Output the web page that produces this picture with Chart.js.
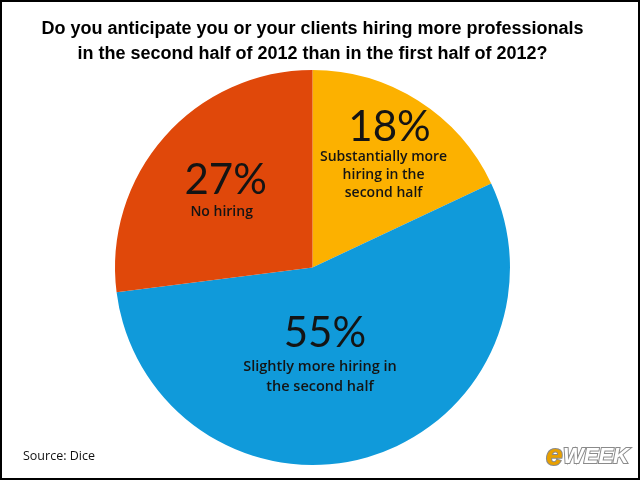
<!DOCTYPE html>
<html>
<head>
<meta charset="utf-8">
<script src="https://cdn.jsdelivr.net/npm/chart.js@4"></script>
<style>
  html, body { margin: 0; padding: 0; background: #fff; }
  canvas { display: block; }
</style>
</head>
<body>
<canvas id="pieChart" width="640" height="480"></canvas>
<script>
const categories = ["Substantially more hiring in the second half", "Slightly more hiring in the second half", "No hiring"];
const shares = [18, 55, 27];
const sliceColors = ["#FCB100", "#109ADA", "#E0480A"];
const labelLines = [
    ["Substantially more", "hiring in the", "second half"],
    ["Slightly more hiring in", "the second half"],
    ["No hiring"]
];
const titleLines = [
    "Do you anticipate you or your clients hiring more professionals",
    "in the second half of 2012 than in the first half of 2012?"
];

// label placement, relative to the pie centre in units of radius
const labelStyle = [
    { dx: 0.39, dy: -0.71, big: 42, small: 14, gap: 18, subDx: -0.03, subDy: 30 },
    { dx: 0.063, dy: 0.335, big: 42, small: 14.5, gap: 20, subDx: -0.025, subDy: 33 },
    { dx: -0.44, dy: -0.44, big: 42, small: 14, gap: 18, subDx: -0.02, subDy: 31 }
];

const sliceLabels = {
    id: "sliceLabels",
    afterDatasetsDraw(chart) {
        const c = chart.ctx;
        const arcs = chart.getDatasetMeta(0).data;
        c.save();
        c.textAlign = "center";
        c.textBaseline = "middle";
        c.fillStyle = "#141414";
        arcs.forEach((arc, i) => {
            const s = labelStyle[i];
            const r = arc.outerRadius;
            const x = arc.x + s.dx * r;
            const y = arc.y + s.dy * r;
            c.font = s.big + "px Lato";
            c.fillText(shares[i] + "%", x, y);
            c.font = "600 " + s.small + "px 'Open Sans'";
            labelLines[i].forEach((line, j) => {
                c.fillText(line, x + s.subDx * r, y + s.subDy + j * s.gap);
            });
        });
        c.restore();
    },
    afterDraw(chart) {
        const c = chart.ctx;
        c.save();
        c.font = "12.5px 'Open Sans'";
        c.fillStyle = "#111";
        c.textAlign = "left";
        c.textBaseline = "middle";
        c.fillText("Source: Dice", 23, 456);

        c.font = "italic bold 30px 'Liberation Sans'";
        c.lineWidth = 2;
        c.strokeStyle = "#8a8a8a";
        c.strokeText("e", 546, 457);
        c.fillStyle = "#E8A000";
        c.fillText("e", 546, 457);
        c.font = "italic bold 22px 'Liberation Sans'";
        c.strokeText("WEEK", 563, 457);
        c.fillStyle = "#ffffff";
        c.fillText("WEEK", 563, 457);

        c.lineWidth = 2;
        c.strokeStyle = "#000";
        c.strokeRect(1, 1, chart.width - 2, chart.height - 2);
        c.restore();
    }
};

new Chart(document.getElementById("pieChart"), {
    type: "pie",
    data: {
        labels: categories,
        datasets: [{
            data: shares,
            backgroundColor: sliceColors,
            borderWidth: 0
        }]
    },
    options: {
        responsive: false,
        animation: false,
        layout: { padding: { top: 0, bottom: 15, left: 0, right: 15 } },
        plugins: {
            legend: { display: false },
            tooltip: { enabled: false },
            title: {
                display: true,
                text: titleLines,
                color: "#000",
                font: { family: "'Liberation Sans'", size: 18, weight: "bold", lineHeight: 1.39 },
                padding: { top: 17, bottom: 3 }
            }
        }
    },
    plugins: [sliceLabels]
});
</script>
</body>
</html>
